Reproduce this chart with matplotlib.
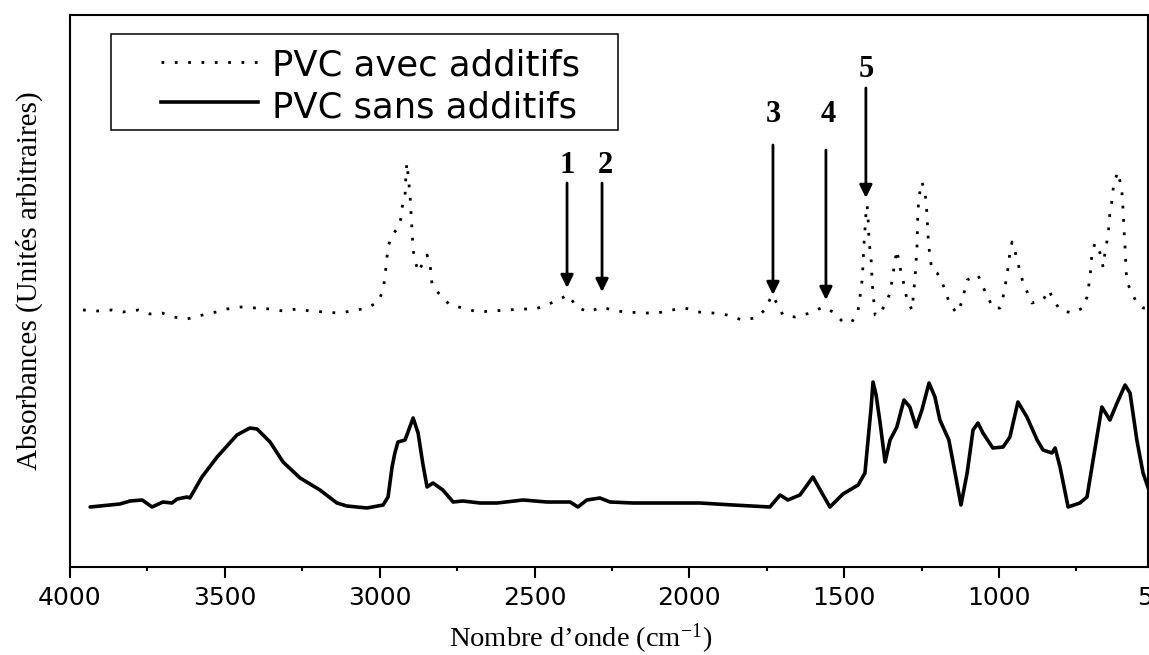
import matplotlib
matplotlib.use("Agg")
import matplotlib.pyplot as plt
from matplotlib.patches import Rectangle
from matplotlib.ticker import MultipleLocator, FixedLocator
from matplotlib import transforms

plt.rcParams["mathtext.fontset"] = "custom"
plt.rcParams["mathtext.rm"] = "Liberation Serif"
plt.rcParams["mathtext.it"] = "Liberation Serif:italic"
plt.rcParams["mathtext.bf"] = "Liberation Serif:bold"

# FTIR spectra: wavenumber (cm-1) and absorbance (arbitrary units)
wn_avec = [3958, 3913, 3864, 3829, 3780, 3742, 3703, 3667, 3622, 3587,
           3541, 3493, 3448, 3403, 3354, 3312, 3267, 3225, 3177, 3135,
           3089, 3041, 3005, 2989, 2983, 2973, 2960, 2941, 2931, 2928,
           2918, 2915, 2912, 2909, 2902, 2896, 2892, 2886, 2876, 2860,
           2847, 2837, 2831, 2805, 2773, 2731, 2683, 2634, 2589, 2540,
           2498, 2460, 2418, 2392, 2363, 2327, 2282, 2240, 2198, 2150,
           2104, 2056, 2014, 1972, 1924, 1878, 1830, 1788, 1756, 1733,
           1714, 1698, 1659, 1610, 1568, 1536, 1504, 1475, 1455, 1449,
           1442, 1439, 1436, 1433, 1430, 1426, 1423, 1420, 1413, 1410,
           1407, 1400, 1391, 1368, 1352, 1342, 1330, 1320, 1310, 1297,
           1281, 1278, 1271, 1265, 1262, 1255, 1249, 1239, 1233, 1229,
           1223, 1216, 1200, 1184, 1158, 1136, 1120, 1103, 1068, 1052,
           1036, 1020, 997, 987, 974, 965, 958, 949, 942, 923,
           894, 858, 839, 826, 803, 764, 729, 716, 706, 700,
           690, 674, 664, 658, 648, 642, 635, 632, 626, 616,
           609, 603, 600, 597, 593, 590, 587, 571, 555, 535,
           522, 497]
abs_avec = [2.57, 2.56, 2.57, 2.55, 2.57, 2.53, 2.54, 2.50, 2.48, 2.51,
            2.54, 2.58, 2.60, 2.59, 2.58, 2.56, 2.58, 2.56, 2.55, 2.54,
            2.56, 2.59, 2.65, 2.77, 2.90, 3.20, 3.32, 3.39, 3.49, 3.59,
            3.72, 3.94, 4.04, 3.94, 3.72, 3.39, 3.17, 3.07, 2.95, 3.04,
            3.12, 3.02, 2.82, 2.72, 2.62, 2.59, 2.55, 2.56, 2.57, 2.58,
            2.58, 2.62, 2.68, 2.72, 2.60, 2.55, 2.60, 2.56, 2.55, 2.54,
            2.54, 2.57, 2.59, 2.55, 2.54, 2.52, 2.47, 2.49, 2.57, 2.72,
            2.62, 2.52, 2.50, 2.54, 2.60, 2.55, 2.45, 2.45, 2.57, 2.70,
            2.87, 3.04, 3.24, 3.37, 3.52, 3.62, 3.50, 3.27, 3.07, 2.87,
            2.74, 2.52, 2.51, 2.62, 2.74, 2.94, 3.17, 3.00, 2.87, 2.67,
            2.57, 2.67, 2.90, 3.20, 3.57, 3.77, 3.85, 3.75, 3.54, 3.30,
            3.09, 2.97, 2.94, 2.85, 2.62, 2.54, 2.65, 2.87, 2.92, 2.80,
            2.70, 2.59, 2.59, 2.70, 2.92, 3.14, 3.25, 3.17, 3.07, 2.85,
            2.64, 2.67, 2.77, 2.68, 2.57, 2.54, 2.59, 2.70, 2.90, 3.14,
            3.24, 3.14, 3.00, 3.14, 3.32, 3.54, 3.67, 3.77, 3.87, 3.95,
            3.85, 3.74, 3.60, 3.40, 3.19, 2.97, 2.85, 2.74, 2.64, 2.59,
            2.59, 2.57]

wn_sans = [3935, 3839, 3806, 3767, 3735, 3700, 3671, 3654, 3622, 3613,
           3574, 3525, 3461, 3419, 3396, 3354, 3312, 3257, 3193, 3138,
           3106, 3041, 2989, 2973, 2960, 2951, 2941, 2918, 2892, 2876,
           2860, 2847, 2828, 2796, 2763, 2731, 2676, 2621, 2537, 2460,
           2385, 2360, 2331, 2289, 2256, 2182, 2072, 1966, 1859, 1740,
           1707, 1682, 1643, 1601, 1572, 1546, 1504, 1455, 1433, 1423,
           1413, 1407, 1397, 1384, 1368, 1352, 1330, 1307, 1288, 1268,
           1249, 1226, 1207, 1191, 1162, 1142, 1123, 1103, 1084, 1068,
           1052, 1020, 987, 965, 939, 910, 877, 858, 829, 819,
           803, 777, 739, 716, 700, 668, 642, 619, 593, 577,
           555, 535, 516, 497]
abs_sans = [0.60, 0.63, 0.66, 0.67, 0.60, 0.65, 0.64, 0.68, 0.70, 0.69,
            0.90, 1.10, 1.32, 1.39, 1.38, 1.25, 1.05, 0.89, 0.77, 0.64,
            0.61, 0.59, 0.62, 0.70, 1.00, 1.14, 1.25, 1.27, 1.49, 1.34,
            1.02, 0.80, 0.84, 0.77, 0.65, 0.66, 0.64, 0.64, 0.67, 0.65,
            0.65, 0.60, 0.67, 0.69, 0.65, 0.64, 0.64, 0.64, 0.62, 0.60,
            0.72, 0.67, 0.72, 0.90, 0.74, 0.60, 0.73, 0.82, 0.94, 1.27,
            1.60, 1.85, 1.72, 1.44, 1.05, 1.27, 1.40, 1.67, 1.60, 1.40,
            1.57, 1.84, 1.70, 1.47, 1.27, 0.94, 0.62, 0.94, 1.37, 1.44,
            1.34, 1.19, 1.20, 1.30, 1.65, 1.50, 1.27, 1.17, 1.14, 1.19,
            1.00, 0.60, 0.64, 0.70, 1.00, 1.60, 1.47, 1.64, 1.82, 1.74,
            1.27, 0.94, 0.77, 0.62]

series_labels = ["PVC avec additifs", "PVC sans additifs"]

# numbered bands marked with arrows
band_labels = ["1", "2", "3", "4", "5"]
band_wn = [2395, 2282, 1730, 1559, 1430]
band_label_wn = [2395, 2272, 1730, 1552, 1430]
arrow_tip = [2.79, 2.75, 2.72, 2.67, 3.69]
arrow_top = [3.84, 3.84, 4.22, 4.17, 4.79]
label_base = [3.94, 3.94, 4.45, 4.45, 4.90]

major_ticks = [4000, 3500, 3000, 2500, 2000, 1500, 1000]
edge_tick = 500
x_range = (4000, 519)
y_range = (0, 5.52)

DOTS = (0, (1, 3.8))

W, H = 1149, 655
fig = plt.figure(figsize=(W / 100, H / 100), dpi=100)
ax = fig.add_axes([70 / W, 88 / H, 1078 / W, 552 / H])

ax.plot(wn_avec, abs_avec, color="black", lw=2.0, linestyle=DOTS)
ax.plot(wn_sans, abs_sans, color="black", lw=2.6,
        solid_joinstyle="round", solid_capstyle="round")

ax.set_xlim(*x_range)
ax.set_ylim(*y_range)
ax.set_yticks([])
ax.xaxis.set_major_locator(FixedLocator(major_ticks))
ax.xaxis.set_minor_locator(MultipleLocator(250))
ax.tick_params(axis="x", which="major", length=8, width=1.5,
               direction="out", labelsize=18, pad=6)
ax.tick_params(axis="x", which="minor", length=3, width=1.5,
               direction="out")
for sp in ax.spines.values():
    sp.set_linewidth(1.5)

# last tick label sits on the right border
lab_tr = transforms.offset_copy(ax.get_xaxis_transform(), fig=fig,
                                x=5, y=-(8 + 6), units="points")
ax.text(edge_tick, 0, str(edge_tick), transform=lab_tr, ha="center",
        va="top", fontsize=18, clip_on=False)

# band arrows and numbers
for lab, wn, lwn, tip, top, lb in zip(band_labels, band_wn, band_label_wn,
                                      arrow_tip, arrow_top, label_base):
    ax.annotate("", xy=(wn, tip), xytext=(wn, top),
                arrowprops=dict(arrowstyle="-|>,head_length=0.55,head_width=0.27",
                                mutation_scale=14, color="black", lw=2.0,
                                shrinkA=0, shrinkB=0))
    ax.text(lwn, lb, lab, ha="center", va="baseline", fontsize=22,
            fontweight="bold", family="Liberation Serif")

# legend box
ax.add_patch(Rectangle((0.0380, 0.7917), 0.4703, 0.1739, transform=ax.transAxes,
                       facecolor="white", edgecolor="black", lw=1.1, zorder=5))
ax.plot([0.0844, 0.1744], [0.9149, 0.9149], transform=ax.transAxes,
        color="black", lw=2.0, linestyle=DOTS, zorder=6)
ax.plot([0.0844, 0.1744], [0.8424, 0.8424], transform=ax.transAxes,
        color="black", lw=2.6, zorder=6)
ax.text(0.1874, 0.8913, series_labels[0], transform=ax.transAxes,
        fontsize=25.5, va="baseline", ha="left", zorder=6)
ax.text(0.1874, 0.8152, series_labels[1], transform=ax.transAxes,
        fontsize=25.5, va="baseline", ha="left", zorder=6)

# axis titles
fig.text(581 / W, 1 - 647 / H, "Nombre d\u2019onde (cm$^{-1}$)",
         ha="center", va="baseline", fontsize=20.5, family="Liberation Serif")
fig.text(37 / W, 1 - 281 / H, "Absorbances (Unit\u00e9s arbitraires)",
         rotation=90, rotation_mode="anchor", ha="center", va="baseline",
         fontsize=21, family="Liberation Serif")

fig.savefig("out.png", dpi=100)
